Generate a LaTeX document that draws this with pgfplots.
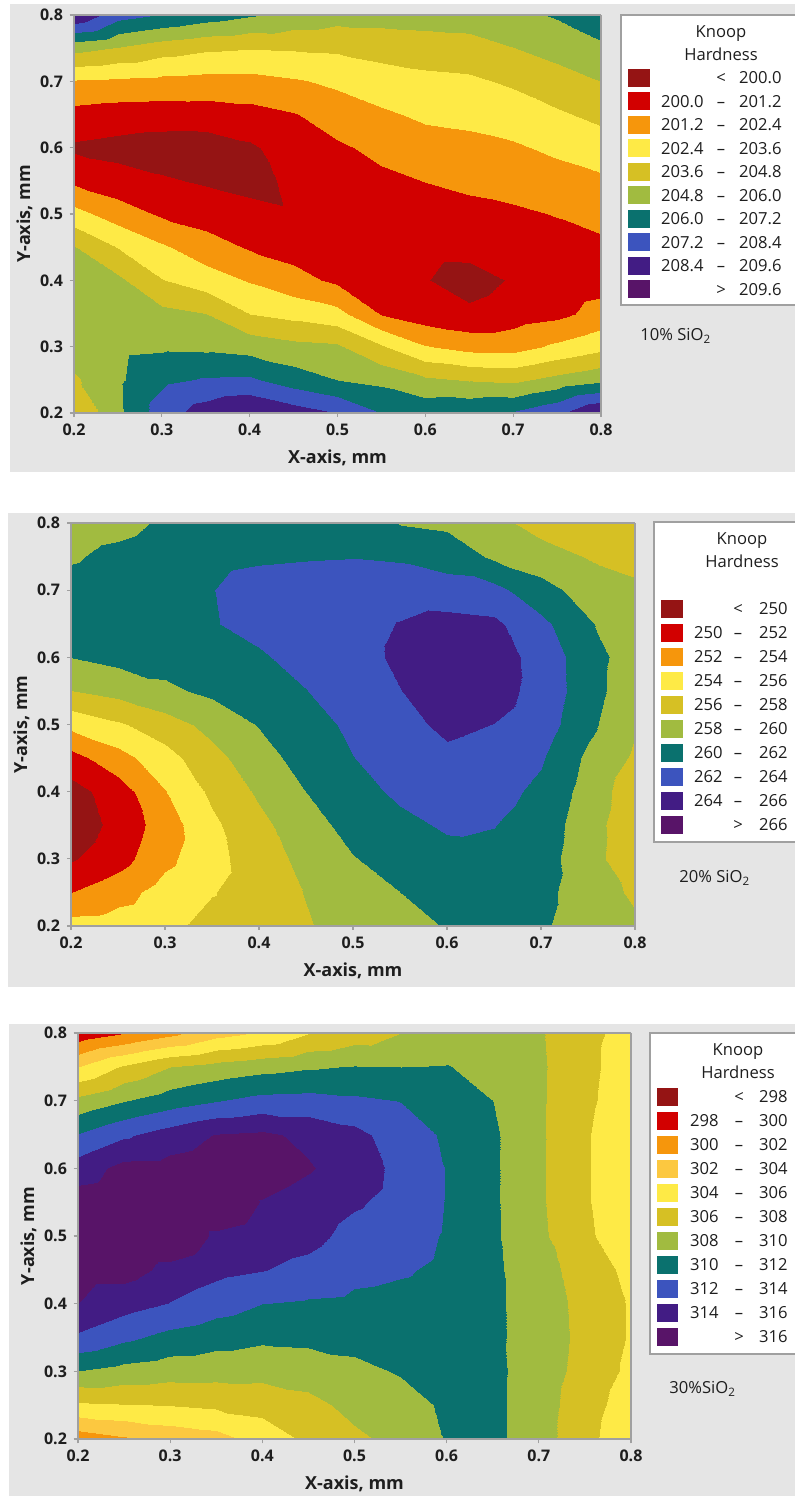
\documentclass[border=0pt]{standalone}
\usepackage{fontspec}
\setmainfont{Open Sans}
\usepackage{pgfplots}
\pgfplotsset{compat=1.18}
\definecolor{bg}{RGB}{229,229,229}
\definecolor{axgray}{RGB}{160,160,160}
\definecolor{txt}{RGB}{30,30,30}
\definecolor{c0}{RGB}{149,20,20}
\definecolor{c1}{RGB}{210,0,0}
\definecolor{c2}{RGB}{246,150,12}
\definecolor{c2b}{RGB}{252,200,64}
\definecolor{c3}{RGB}{254,234,70}
\definecolor{c4}{RGB}{214,192,36}
\definecolor{c5}{RGB}{161,187,64}
\definecolor{c6}{RGB}{10,113,110}
\definecolor{c7}{RGB}{60,84,190}
\definecolor{c8}{RGB}{66,28,132}
\definecolor{c9}{RGB}{88,20,104}
\pgfplotsset{
  khax/.style={
    scale only axis, anchor=south west,
    view={0}{90},
    xmin=0.2,xmax=0.8,ymin=0.2,ymax=0.8,
    xtick={0.2,0.3,0.4,0.5,0.6,0.7,0.8},
    ytick={0.2,0.3,0.4,0.5,0.6,0.7,0.8},
    ztick=\empty,
    tick align=outside, tick pos=left,
    major tick length=2pt,
    axis line style={draw=axgray, line width=0.6pt},
    every tick/.style={draw=axgray, line width=0.6pt},
    ticklabel style={font=\fontsize{8}{9}\selectfont\bfseries, text=txt,
      /pgf/number format/fixed, /pgf/number format/fixed zerofill,
      /pgf/number format/precision=1, /pgf/number format/assume math mode=true},
    xlabel={X-axis, mm}, ylabel={Y-axis, mm},
    label style={font=\fontsize{9}{10}\selectfont\bfseries, text=txt},
    ylabel style={yshift=-3pt},
    colormap access=piecewise constant,
    axis on top,
  }
}
\begin{document}
\begin{tikzpicture}
\useasboundingbox (0,0) rectangle (397.5pt,748pt);
\fill[white] (0,0) rectangle (397.5pt,748pt);
\begin{scope}[x=0.5pt,y=-0.5pt,yshift=748pt]
\fill[bg] (10,4) rectangle (800,472);
\fill[bg] (8,513) rectangle (800,987);
\fill[bg] (9,1024) rectangle (800,1500);
\end{scope}

% ---------------- panel 1 : 10% SiO2 ----------------
\begin{axis}[khax, at={(37pt,541.5pt)}, width=263.5pt, height=199pt,
  colormap={kh1}{color=(c0) color=(c1) color=(c2) color=(c3) color=(c4) color=(c5) color=(c6) color=(c7) color=(c8) color=(c9)},
  point meta min=198.8, point meta max=210.8]
\addplot3[surf, shader=interp, mesh/cols=13] table[row sep=\\] {
x y z\\
0.2 0.8 209.48\\ 0.25 0.8 207.68\\ 0.3 0.8 207.14\\ 0.35 0.8 206.60\\ 0.4 0.8 206.12\\ 0.45 0.8 205.64\\ 0.5 0.8 205.28\\ 0.55 0.8 205.28\\ 0.6 0.8 205.34\\ 0.65 0.8 205.40\\ 0.7 0.8 205.70\\ 0.75 0.8 206.12\\ 0.8 0.8 206.60\\
0.2 0.75 205.20\\ 0.25 0.75 204.74\\ 0.3 0.75 204.16\\ 0.35 0.75 203.80\\ 0.4 0.75 203.66\\ 0.45 0.75 203.72\\ 0.5 0.75 203.79\\ 0.55 0.75 204.03\\ 0.6 0.75 204.18\\ 0.65 0.75 204.31\\ 0.7 0.75 204.78\\ 0.75 0.75 205.22\\ 0.8 0.75 205.83\\
0.2 0.7 202.32\\ 0.25 0.7 202.20\\ 0.3 0.7 202.08\\ 0.35 0.7 201.98\\ 0.4 0.7 202.00\\ 0.45 0.7 202.28\\ 0.5 0.7 202.63\\ 0.55 0.7 203.06\\ 0.6 0.7 203.31\\ 0.65 0.7 203.41\\ 0.7 0.7 203.78\\ 0.75 0.7 204.33\\ 0.8 0.7 204.82\\
0.2 0.65 200.77\\ 0.25 0.65 200.58\\ 0.3 0.65 200.52\\ 0.35 0.65 200.59\\ 0.4 0.65 200.78\\ 0.45 0.65 201.12\\ 0.5 0.65 201.75\\ 0.55 0.65 202.20\\ 0.6 0.65 202.59\\ 0.65 0.65 202.71\\ 0.7 0.65 202.98\\ 0.75 0.65 203.42\\ 0.8 0.65 203.90\\
0.2 0.6 199.82\\ 0.25 0.6 199.64\\ 0.3 0.6 199.46\\ 0.35 0.6 199.40\\ 0.4 0.6 199.82\\ 0.45 0.6 200.60\\ 0.5 0.6 201.02\\ 0.55 0.6 201.48\\ 0.6 0.6 201.90\\ 0.65 0.6 202.05\\ 0.7 0.6 202.24\\ 0.75 0.6 202.63\\ 0.8 0.6 203.00\\
0.2 0.55 200.98\\ 0.25 0.55 200.44\\ 0.3 0.55 200.13\\ 0.35 0.55 199.88\\ 0.4 0.55 199.64\\ 0.45 0.55 200.24\\ 0.5 0.55 200.48\\ 0.55 0.55 200.96\\ 0.6 0.55 201.22\\ 0.65 0.55 201.42\\ 0.7 0.55 201.62\\ 0.75 0.55 201.92\\ 0.8 0.55 202.20\\
0.2 0.5 202.82\\ 0.25 0.5 201.82\\ 0.3 0.5 201.03\\ 0.35 0.5 200.66\\ 0.4 0.5 200.35\\ 0.45 0.5 200.12\\ 0.5 0.5 200.24\\ 0.55 0.5 200.54\\ 0.6 0.5 200.72\\ 0.65 0.5 200.90\\ 0.7 0.5 201.02\\ 0.75 0.5 201.25\\ 0.8 0.5 201.57\\
0.2 0.45 204.86\\ 0.25 0.45 203.54\\ 0.3 0.45 202.56\\ 0.35 0.45 201.72\\ 0.4 0.45 201.07\\ 0.45 0.45 200.72\\ 0.5 0.45 200.36\\ 0.55 0.45 200.42\\ 0.6 0.45 200.36\\ 0.65 0.45 200.42\\ 0.7 0.45 200.54\\ 0.75 0.45 200.78\\ 0.8 0.45 200.96\\
0.2 0.4 205.40\\ 0.25 0.4 205.04\\ 0.3 0.4 203.64\\ 0.35 0.4 202.95\\ 0.4 0.4 202.29\\ 0.45 0.4 201.60\\ 0.5 0.4 200.96\\ 0.55 0.4 200.60\\ 0.6 0.4 200.06\\ 0.65 0.4 199.52\\ 0.7 0.4 200.12\\ 0.75 0.4 200.48\\ 0.8 0.4 200.72\\
0.2 0.35 205.52\\ 0.25 0.35 205.52\\ 0.3 0.35 205.14\\ 0.35 0.35 204.82\\ 0.4 0.35 203.60\\ 0.45 0.35 203.22\\ 0.5 0.35 202.80\\ 0.55 0.35 201.14\\ 0.6 0.35 200.54\\ 0.65 0.35 200.24\\ 0.7 0.35 200.60\\ 0.75 0.35 200.90\\ 0.8 0.35 201.63\\
0.2 0.3 205.40\\ 0.25 0.3 205.70\\ 0.3 0.3 205.82\\ 0.35 0.3 205.76\\ 0.4 0.3 205.54\\ 0.45 0.3 205.16\\ 0.5 0.3 205.00\\ 0.55 0.3 203.77\\ 0.6 0.3 202.50\\ 0.65 0.3 202.00\\ 0.7 0.3 201.96\\ 0.75 0.3 202.64\\ 0.8 0.3 203.28\\
0.2 0.25 204.61\\ 0.25 0.25 205.82\\ 0.3 0.25 206.95\\ 0.35 0.25 207.32\\ 0.4 0.25 207.39\\ 0.45 0.25 206.60\\ 0.5 0.25 206.00\\ 0.55 0.25 205.71\\ 0.6 0.25 205.02\\ 0.65 0.25 204.73\\ 0.7 0.25 204.55\\ 0.75 0.25 205.20\\ 0.8 0.25 205.74\\
0.2 0.2 203.48\\ 0.25 0.2 205.76\\ 0.3 0.2 207.80\\ 0.35 0.2 209.00\\ 0.4 0.2 209.66\\ 0.45 0.2 209.00\\ 0.5 0.2 208.40\\ 0.55 0.2 207.20\\ 0.6 0.2 206.84\\ 0.65 0.2 207.02\\ 0.7 0.2 207.32\\ 0.75 0.2 208.16\\ 0.8 0.2 209.66\\
};
\end{axis}

% ---------------- panel 2 : 20% SiO2 ----------------
\begin{axis}[khax, at={(35.5pt,285pt)}, width=282pt, height=201.5pt,
  colormap={kh2}{color=(c0) color=(c1) color=(c2) color=(c3) color=(c4) color=(c5) color=(c6) color=(c7) color=(c8) color=(c9)},
  point meta min=248, point meta max=268]
\addplot3[surf, shader=interp, mesh/cols=13] table[row sep=\\] {
x y z\\
0.2 0.8 259.10\\ 0.25 0.8 259.40\\ 0.3 0.8 260.30\\ 0.35 0.8 261.00\\ 0.4 0.8 261.40\\ 0.45 0.8 261.70\\ 0.5 0.8 261.80\\ 0.55 0.8 259.90\\ 0.6 0.8 259.60\\ 0.65 0.8 258.60\\ 0.7 0.8 257.20\\ 0.75 0.8 256.80\\ 0.8 0.8 256.60\\
0.2 0.75 259.80\\ 0.25 0.75 260.50\\ 0.3 0.75 261.00\\ 0.35 0.75 261.60\\ 0.4 0.75 261.80\\ 0.45 0.75 261.90\\ 0.5 0.75 261.96\\ 0.55 0.75 261.80\\ 0.6 0.75 261.20\\ 0.65 0.75 259.70\\ 0.7 0.75 258.90\\ 0.75 0.75 257.90\\ 0.8 0.75 257.50\\
0.2 0.7 260.70\\ 0.25 0.7 261.00\\ 0.3 0.7 261.30\\ 0.35 0.7 261.96\\ 0.4 0.7 262.60\\ 0.45 0.7 262.70\\ 0.5 0.7 262.80\\ 0.55 0.7 263.00\\ 0.6 0.7 262.80\\ 0.65 0.7 262.60\\ 0.7 0.7 260.70\\ 0.75 0.7 259.20\\ 0.8 0.7 258.30\\
0.2 0.65 260.90\\ 0.25 0.65 261.00\\ 0.3 0.65 261.20\\ 0.35 0.65 261.90\\ 0.4 0.65 262.50\\ 0.45 0.65 262.90\\ 0.5 0.65 263.20\\ 0.55 0.65 264.10\\ 0.6 0.65 264.70\\ 0.65 0.65 264.40\\ 0.7 0.65 262.50\\ 0.75 0.65 260.20\\ 0.8 0.65 258.80\\
0.2 0.6 260.04\\ 0.25 0.6 260.60\\ 0.3 0.6 260.70\\ 0.35 0.6 261.00\\ 0.4 0.6 261.80\\ 0.45 0.6 262.60\\ 0.5 0.6 263.20\\ 0.55 0.6 264.40\\ 0.6 0.6 265.40\\ 0.65 0.6 265.00\\ 0.7 0.6 263.20\\ 0.75 0.6 260.90\\ 0.8 0.6 258.90\\
0.2 0.55 257.96\\ 0.25 0.55 258.66\\ 0.3 0.55 259.64\\ 0.35 0.55 260.40\\ 0.4 0.55 261.00\\ 0.45 0.55 261.96\\ 0.5 0.55 262.90\\ 0.55 0.55 263.96\\ 0.6 0.55 265.20\\ 0.65 0.55 264.80\\ 0.7 0.55 263.30\\ 0.75 0.55 260.90\\ 0.8 0.55 258.60\\
0.2 0.5 254.54\\ 0.25 0.5 255.70\\ 0.3 0.5 257.08\\ 0.35 0.5 258.62\\ 0.4 0.5 260.10\\ 0.45 0.5 261.20\\ 0.5 0.5 262.40\\ 0.55 0.5 263.40\\ 0.6 0.5 264.40\\ 0.65 0.5 263.96\\ 0.7 0.5 263.00\\ 0.75 0.5 260.50\\ 0.8 0.5 258.16\\
0.2 0.45 251.26\\ 0.25 0.45 253.24\\ 0.3 0.45 255.24\\ 0.35 0.45 257.36\\ 0.4 0.45 259.20\\ 0.45 0.45 260.80\\ 0.5 0.45 261.96\\ 0.55 0.45 262.90\\ 0.6 0.45 263.60\\ 0.65 0.45 263.20\\ 0.7 0.45 262.20\\ 0.75 0.45 259.60\\ 0.8 0.45 257.70\\
0.2 0.4 249.20\\ 0.25 0.4 251.00\\ 0.3 0.4 253.90\\ 0.35 0.4 256.40\\ 0.4 0.4 258.30\\ 0.45 0.4 260.00\\ 0.5 0.4 261.40\\ 0.55 0.4 262.30\\ 0.6 0.4 262.90\\ 0.65 0.4 262.60\\ 0.7 0.4 261.60\\ 0.75 0.4 259.20\\ 0.8 0.4 256.80\\
0.2 0.35 248.80\\ 0.25 0.35 250.60\\ 0.3 0.35 253.00\\ 0.35 0.35 255.60\\ 0.4 0.35 257.50\\ 0.45 0.35 259.20\\ 0.5 0.35 260.70\\ 0.55 0.35 261.60\\ 0.6 0.35 262.20\\ 0.65 0.35 262.04\\ 0.7 0.35 261.20\\ 0.75 0.35 258.80\\ 0.8 0.35 256.70\\
0.2 0.3 249.80\\ 0.25 0.3 251.20\\ 0.3 0.3 253.50\\ 0.35 0.3 255.40\\ 0.4 0.3 257.00\\ 0.45 0.3 258.60\\ 0.5 0.3 259.90\\ 0.55 0.3 260.80\\ 0.6 0.3 261.50\\ 0.65 0.3 261.60\\ 0.7 0.3 260.90\\ 0.75 0.3 258.70\\ 0.8 0.3 256.80\\
0.2 0.25 251.96\\ 0.25 0.25 253.20\\ 0.3 0.25 254.80\\ 0.35 0.25 255.90\\ 0.4 0.25 256.90\\ 0.45 0.25 258.10\\ 0.5 0.25 259.40\\ 0.55 0.25 260.00\\ 0.6 0.25 260.70\\ 0.65 0.25 261.20\\ 0.7 0.25 260.60\\ 0.75 0.25 258.90\\ 0.8 0.25 257.70\\
0.2 0.2 254.80\\ 0.25 0.2 255.00\\ 0.3 0.2 255.50\\ 0.35 0.2 256.60\\ 0.4 0.2 257.00\\ 0.45 0.2 257.80\\ 0.5 0.2 259.00\\ 0.55 0.2 259.40\\ 0.6 0.2 260.10\\ 0.65 0.2 261.00\\ 0.7 0.2 260.30\\ 0.75 0.2 258.90\\ 0.8 0.2 258.30\\
};
\end{axis}

% ---------------- panel 3 : 30% SiO2 ----------------
\begin{axis}[khax, at={(39pt,28.5pt)}, width=276.5pt, height=203pt,
  colormap={kh3}{color=(c0) color=(c1) color=(c2) color=(c2b) color=(c3) color=(c4) color=(c5) color=(c6) color=(c7) color=(c8) color=(c9)},
  point meta min=296, point meta max=318]
\addplot3[surf, shader=interp, mesh/cols=13] table[row sep=\\] {
x y z\\
0.2 0.8 298.60\\ 0.25 0.8 299.90\\ 0.3 0.8 301.40\\ 0.35 0.8 303.20\\ 0.4 0.8 304.20\\ 0.45 0.8 305.90\\ 0.5 0.8 306.90\\ 0.55 0.8 308.00\\ 0.6 0.8 308.90\\ 0.65 0.8 308.70\\ 0.7 0.8 308.20\\ 0.75 0.8 306.60\\ 0.8 0.8 305.24\\
0.2 0.75 304.00\\ 0.25 0.75 306.30\\ 0.3 0.75 308.00\\ 0.35 0.75 308.76\\ 0.4 0.75 309.34\\ 0.45 0.75 309.80\\ 0.5 0.75 310.10\\ 0.55 0.75 310.00\\ 0.6 0.75 310.10\\ 0.65 0.75 309.20\\ 0.7 0.75 308.30\\ 0.75 0.75 306.60\\ 0.8 0.75 304.84\\
0.2 0.7 308.60\\ 0.25 0.7 309.94\\ 0.3 0.7 311.04\\ 0.35 0.7 311.92\\ 0.4 0.7 312.66\\ 0.45 0.7 312.76\\ 0.5 0.7 312.38\\ 0.55 0.7 311.96\\ 0.6 0.7 311.10\\ 0.65 0.7 310.00\\ 0.7 0.7 308.30\\ 0.75 0.7 306.48\\ 0.8 0.7 304.64\\
0.2 0.65 312.12\\ 0.25 0.65 313.70\\ 0.3 0.65 314.94\\ 0.35 0.65 316.10\\ 0.4 0.65 316.40\\ 0.45 0.65 315.52\\ 0.5 0.65 314.60\\ 0.55 0.65 313.00\\ 0.6 0.65 311.70\\ 0.65 0.65 310.30\\ 0.7 0.65 308.30\\ 0.75 0.65 306.24\\ 0.8 0.65 304.24\\
0.2 0.6 314.96\\ 0.25 0.6 316.60\\ 0.3 0.6 316.70\\ 0.35 0.6 317.20\\ 0.4 0.6 317.10\\ 0.45 0.6 316.20\\ 0.5 0.6 314.90\\ 0.55 0.6 313.50\\ 0.6 0.6 311.90\\ 0.65 0.6 310.30\\ 0.7 0.6 308.30\\ 0.75 0.6 306.24\\ 0.8 0.6 304.24\\
0.2 0.55 317.00\\ 0.25 0.55 317.40\\ 0.3 0.55 317.60\\ 0.35 0.55 317.80\\ 0.4 0.55 315.90\\ 0.45 0.55 315.10\\ 0.5 0.55 314.24\\ 0.55 0.55 313.40\\ 0.6 0.55 311.90\\ 0.65 0.55 310.30\\ 0.7 0.55 308.30\\ 0.75 0.55 306.24\\ 0.8 0.55 304.24\\
0.2 0.5 317.00\\ 0.25 0.5 317.60\\ 0.3 0.5 317.70\\ 0.35 0.5 315.68\\ 0.4 0.5 314.98\\ 0.45 0.5 314.60\\ 0.5 0.5 313.40\\ 0.55 0.5 312.90\\ 0.6 0.5 311.80\\ 0.65 0.5 310.30\\ 0.7 0.5 308.40\\ 0.75 0.5 306.40\\ 0.8 0.5 304.58\\
0.2 0.45 316.80\\ 0.25 0.45 316.80\\ 0.3 0.45 315.44\\ 0.35 0.45 314.54\\ 0.4 0.45 314.08\\ 0.45 0.45 313.46\\ 0.5 0.45 312.52\\ 0.55 0.45 312.20\\ 0.6 0.45 311.60\\ 0.65 0.45 310.40\\ 0.7 0.45 308.70\\ 0.75 0.45 307.22\\ 0.8 0.45 305.38\\
0.2 0.4 316.00\\ 0.25 0.4 314.78\\ 0.3 0.4 313.90\\ 0.35 0.4 312.86\\ 0.4 0.4 312.00\\ 0.45 0.4 311.74\\ 0.5 0.4 311.58\\ 0.55 0.4 311.40\\ 0.6 0.4 311.20\\ 0.65 0.4 310.40\\ 0.7 0.4 308.90\\ 0.75 0.4 307.46\\ 0.8 0.4 305.80\\
0.2 0.35 313.62\\ 0.25 0.35 312.38\\ 0.3 0.35 311.36\\ 0.35 0.35 310.76\\ 0.4 0.35 310.34\\ 0.45 0.35 310.44\\ 0.5 0.35 310.56\\ 0.55 0.35 310.80\\ 0.6 0.35 310.90\\ 0.65 0.35 310.40\\ 0.7 0.35 309.00\\ 0.75 0.35 307.50\\ 0.8 0.35 305.80\\
0.2 0.3 310.00\\ 0.25 0.3 309.32\\ 0.3 0.3 308.88\\ 0.35 0.3 308.76\\ 0.4 0.3 308.68\\ 0.45 0.3 308.96\\ 0.5 0.3 309.56\\ 0.55 0.3 310.16\\ 0.6 0.3 310.60\\ 0.65 0.3 310.50\\ 0.7 0.3 308.90\\ 0.75 0.3 307.38\\ 0.8 0.3 305.52\\
0.2 0.25 305.70\\ 0.25 0.25 305.90\\ 0.3 0.25 306.06\\ 0.35 0.25 306.38\\ 0.4 0.25 306.70\\ 0.45 0.25 307.40\\ 0.5 0.25 308.58\\ 0.55 0.25 309.30\\ 0.6 0.25 310.30\\ 0.65 0.25 310.50\\ 0.7 0.25 308.80\\ 0.75 0.25 307.00\\ 0.8 0.25 304.82\\
0.2 0.2 300.80\\ 0.25 0.2 301.70\\ 0.3 0.2 302.60\\ 0.35 0.2 303.20\\ 0.4 0.2 304.80\\ 0.45 0.2 306.40\\ 0.5 0.2 307.60\\ 0.55 0.2 308.60\\ 0.6 0.2 310.10\\ 0.65 0.2 310.50\\ 0.7 0.2 308.80\\ 0.75 0.2 306.76\\ 0.8 0.2 304.22\\
};
\end{axis}

% ---------------- legends and labels ----------------
\begin{scope}[x=0.5pt,y=-0.5pt,yshift=748pt, every node/.style={font=\fontsize{8.3}{11.5}\selectfont, text=txt, inner sep=0pt}]
% panel 1
\filldraw[fill=white, draw=axgray, line width=0.6pt] (621,15) rectangle (805,305);
\node[align=center] at (721,43.5) {Knoop\\Hardness};
\foreach \c/\a/\m/\b [count=\i from 0] in {c0//{<}/200.0, c1/200.0/\textendash/201.2, c2/201.2/\textendash/202.4, c3/202.4/\textendash/203.6, c4/203.6/\textendash/204.8, c5/204.8/\textendash/206.0, c6/206.0/\textendash/207.2, c7/207.2/\textendash/208.4, c8/208.4/\textendash/209.6, c9//{>}/209.6}{
  \pgfmathsetmacro{\yy}{78+23.5*\i}
  \fill[\c] (628,\yy-9) rectangle (650,\yy+9);
  \node[anchor=base east] at (704,\yy+5.6) {\a};
  \node[anchor=base] at (721,\yy+5.6) {\m};
  \node[anchor=base east] at (782,\yy+5.6) {\b};
}
\node[anchor=base west] at (640,340.5) {10\% SiO\textsubscript{2}};
% panel 2
\filldraw[fill=white, draw=axgray, line width=0.6pt] (654,522) rectangle (805,842);
\node[align=center] at (742,550.5) {Knoop\\Hardness};
\foreach \c/\a/\m/\b [count=\i from 0] in {c0//{<}/250, c1/250/\textendash/252, c2/252/\textendash/254, c3/254/\textendash/256, c4/256/\textendash/258, c5/258/\textendash/260, c6/260/\textendash/262, c7/262/\textendash/264, c8/264/\textendash/266, c9//{>}/266}{
  \pgfmathsetmacro{\yy}{609+24*\i}
  \fill[\c] (661,\yy-9) rectangle (683,\yy+9);
  \node[anchor=base east] at (723,\yy+5.6) {\a};
  \node[anchor=base] at (738,\yy+5.6) {\m};
  \node[anchor=base east] at (788,\yy+5.6) {\b};
}
\node[anchor=base west] at (679,882.5) {20\% SiO\textsubscript{2}};
% panel 3
\filldraw[fill=white, draw=axgray, line width=0.6pt] (650,1033) rectangle (805,1354);
\node[align=center] at (738,1061.5) {Knoop\\Hardness};
\foreach \c/\a/\m/\b [count=\i from 0] in {c0//{<}/298, c1/298/\textendash/300, c2/300/\textendash/302, c2b/302/\textendash/304, c3/304/\textendash/306, c4/306/\textendash/308, c5/308/\textendash/310, c6/310/\textendash/312, c7/312/\textendash/314, c8/314/\textendash/316, c9//{>}/316}{
  \pgfmathsetmacro{\yy}{1097+24*\i}
  \fill[\c] (657,\yy-9) rectangle (678,\yy+9);
  \node[anchor=base east] at (719,\yy+5.6) {\a};
  \node[anchor=base] at (739,\yy+5.6) {\m};
  \node[anchor=base east] at (788,\yy+5.6) {\b};
}
\node[anchor=base west] at (669,1393.5) {30\%SiO\textsubscript{2}};
\end{scope}
\end{tikzpicture}
\end{document}
